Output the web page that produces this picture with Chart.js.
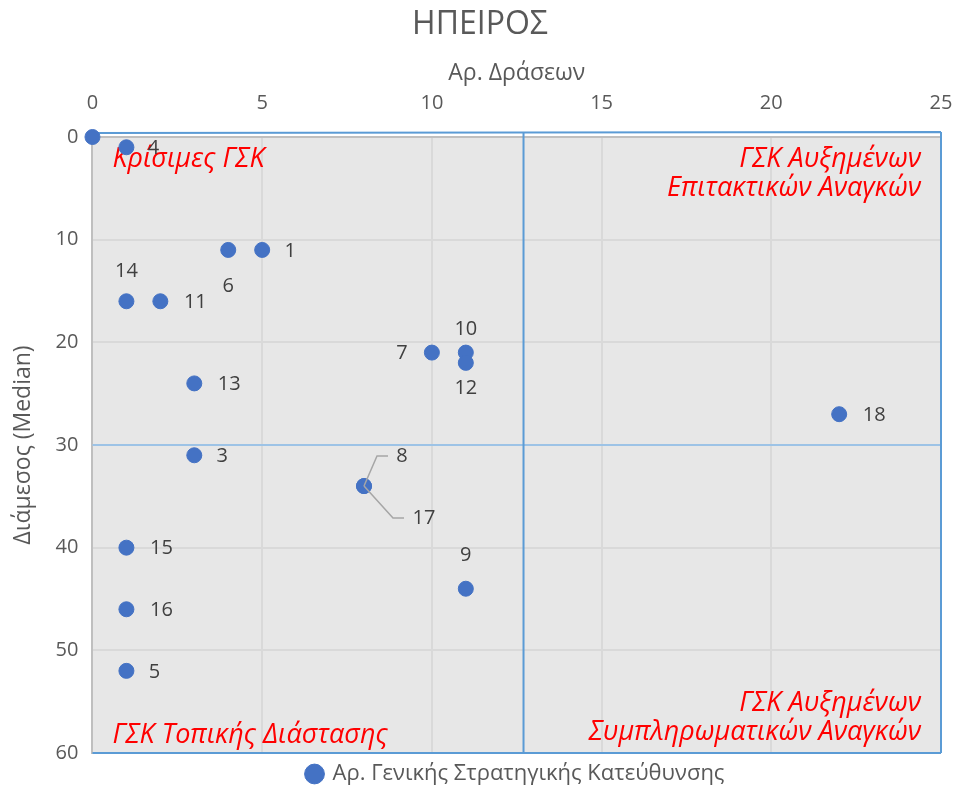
<!DOCTYPE html>
<html>
<head>
<meta charset="utf-8">
<script src="https://cdn.jsdelivr.net/npm/chart.js@4"></script>
<style>
  html, body { margin: 0; padding: 0; background: #fff; }
  #wrap { width: 953px; height: 790px; }
</style>
</head>
<body>
<div id="wrap"><canvas id="ipeiros"></canvas></div>
<script>
// data
var pointLabels = ["1","2","3","4","5","6","7","8","9","10","11","12","13","14","15","16","17","18"];
var actions = [5, 0, 3, 1, 1, 4, 10, 8, 11, 11, 2, 11, 3, 1, 1, 1, 8, 22];
var medians = [11, 0, 31, 1, 52, 11, 21, 34, 44, 21, 16, 22, 24, 16, 40, 46, 34, 27];
var xTicks = [0, 5, 10, 15, 20, 25];
var yTicks = [0, 10, 20, 30, 40, 50, 60];
var splitX = 12.7;
var splitY = 30;

// label offsets in px (label placement only)
var labelOffsets = {
    "1": [28, 1], "2": null, "3": [28, 1], "4": [27, 1], "5": [28, 1], "6": [0, 36],
    "7": [-30, 1], "8": [38, -30], "9": [0, -33], "10": [0, -23], "11": [35, 1], "12": [0, 25],
    "13": [35, 1], "14": [0, -30], "15": [35, 1], "16": [35, 1], "17": [60, 32], "18": [35, 1]
};

var FONT = "'Open Sans', 'Noto Sans', sans-serif";
var GREY = "#595959";

var points = actions.map(function (a, i) { return { x: a, y: medians[i] }; });

var plotBg = {
    id: 'plotBg',
    beforeDraw: function (chart) {
        var a = chart.chartArea, ctx = chart.ctx;
        ctx.save();
        ctx.fillStyle = '#e7e7e7';
        ctx.fillRect(a.left, a.top, a.right - a.left, a.bottom - a.top);
        ctx.restore();
    }
};

// legend in the reference sits a bit right of centre and lower
var legendShift = {
    id: 'legendShift',
    afterLayout: function (chart) {
        if (chart.legend) {
            chart.legend.left += 36;
            chart.legend.right += 36;
            chart.legend.top += 5;
            chart.legend.bottom += 5;
        }
    }
};

var quadrants = {
    id: 'quadrants',
    beforeDatasetsDraw: function (chart) {
        var a = chart.chartArea, ctx = chart.ctx;
        var sx = chart.scales.x.getPixelForValue(splitX);
        var sy = chart.scales.y.getPixelForValue(splitY);
        ctx.save();
        // top gray axis line
        ctx.strokeStyle = '#bfbfbf';
        ctx.lineWidth = 2;
        ctx.beginPath();
        ctx.moveTo(a.left, a.top); ctx.lineTo(a.right, a.top);
        ctx.stroke();
        ctx.strokeStyle = '#9dc3e6';
        ctx.beginPath();
        ctx.moveTo(a.left, sy); ctx.lineTo(a.right, sy);
        ctx.stroke();
        ctx.strokeStyle = '#5b9bd5';
        ctx.beginPath();
        ctx.moveTo(sx, a.top - 5); ctx.lineTo(sx, a.bottom);
        ctx.moveTo(a.left, a.top - 4); ctx.lineTo(a.right, a.top - 5);
        ctx.moveTo(a.right, a.top - 5); ctx.lineTo(a.right, a.bottom);
        ctx.moveTo(a.left, a.bottom); ctx.lineTo(a.right, a.bottom);
        ctx.stroke();

        ctx.fillStyle = '#ff0000';
        ctx.font = 'italic 27px ' + FONT;
        ctx.textBaseline = 'middle';
        ctx.textAlign = 'left';
        ctx.fillText('Κρίσιμες ΓΣΚ', a.left + 20, a.top + 22);
        ctx.fillText('ΓΣΚ Τοπικής Διάστασης', a.left + 20, a.bottom - 18);
        ctx.textAlign = 'right';
        ctx.fillText('ΓΣΚ Αυξημένων', a.right - 20, a.top + 22);
        ctx.fillText('Επιτακτικών Αναγκών', a.right - 20, a.top + 51);
        ctx.fillText('ΓΣΚ Αυξημένων', a.right - 20, a.bottom - 50);
        ctx.fillText('Συμπληρωματικών Αναγκών', a.right - 20, a.bottom - 21);
        ctx.restore();
    }
};

var pointText = {
    id: 'pointText',
    afterDatasetsDraw: function (chart) {
        var ctx = chart.ctx;
        var meta = chart.getDatasetMeta(0);
        ctx.save();
        ctx.font = '20px ' + FONT;
        ctx.fillStyle = '#404040';
        ctx.textAlign = 'center';
        ctx.textBaseline = 'middle';
        meta.data.forEach(function (el, i) {
            var off = labelOffsets[pointLabels[i]];
            if (!off) return;
            ctx.fillText(pointLabels[i], el.x + off[0], el.y + off[1]);
        });
        // leader lines for the two labels sharing a point (8, 17)
        ctx.strokeStyle = '#a6a6a6';
        ctx.lineWidth = 1.5;
        [7, 16].forEach(function (i) {
            var el = meta.data[i];
            var off = labelOffsets[pointLabels[i]];
            var ty = el.y + off[1];
            var tx = el.x + off[0] - (pointLabels[i].length * 6 + 8);
            ctx.beginPath();
            ctx.moveTo(el.x, el.y);
            ctx.lineTo(tx - 11, ty);
            ctx.lineTo(tx, ty);
            ctx.stroke();
        });
        ctx.restore();
    }
};

new Chart(document.getElementById('ipeiros'), {
    type: 'scatter',
    data: {
        datasets: [{
            label: 'Αρ. Γενικής Στρατηγικής Κατεύθυνσης',
            data: points,
            backgroundColor: '#4472c4',
            borderColor: '#4472c4',
            pointRadius: 7.5,
            pointHoverRadius: 7.5,
            clip: false
        }]
    },
    options: {
        responsive: true,
        maintainAspectRatio: false,
        animation: false,
        layout: { padding: { left: 10, right: 3, top: 0, bottom: 0 } },
        plugins: {
            title: {
                display: true,
                text: 'ΗΠΕΙΡΟΣ',
                color: GREY,
                font: { family: FONT, size: 32, weight: 'normal' },
                padding: { top: 6, bottom: 15 }
            },
            legend: {
                position: 'bottom',
                labels: {
                    color: GREY,
                    font: { family: FONT, size: 22 },
                    usePointStyle: true,
                    pointStyle: 'circle',
                    boxWidth: 14,
                    boxHeight: 14,
                    padding: 5
                }
            },
            tooltip: { enabled: false }
        },
        scales: {
            x: {
                type: 'linear',
                position: 'top',
                min: 0,
                max: 25,
                afterBuildTicks: function (axis) { axis.ticks = xTicks.map(function (v) { return { value: v }; }); },
                afterFit: function (axis) {
                    axis.height -= 18;
                    axis.paddingLeft = 0;
                    axis.paddingRight = 12;
                },
                ticks: { color: GREY, font: { family: FONT, size: 20 }, padding: 22 },
                grid: { color: '#d9d9d9', lineWidth: 2, drawTicks: false },
                border: { display: false },
                title: {
                    display: true,
                    text: 'Αρ. Δράσεων',
                    color: GREY,
                    font: { family: FONT, size: 23 },
                    padding: { top: 0, bottom: 0 }
                }
            },
            y: {
                type: 'linear',
                reverse: true,
                min: 0,
                max: 60,
                afterBuildTicks: function (axis) { axis.ticks = yTicks.map(function (v) { return { value: v }; }); },
                ticks: { color: GREY, font: { family: FONT, size: 20 }, padding: 14 },
                grid: { color: '#d9d9d9', lineWidth: 2, drawTicks: false },
                border: { display: true, color: '#bfbfbf', width: 2 },
                title: {
                    display: true,
                    text: 'Διάμεσος (Median)',
                    color: GREY,
                    font: { family: FONT, size: 23 },
                    padding: { top: 0, bottom: 4 }
                }
            }
        }
    },
    plugins: [plotBg, legendShift, quadrants, pointText]
});
</script>
</body>
</html>
